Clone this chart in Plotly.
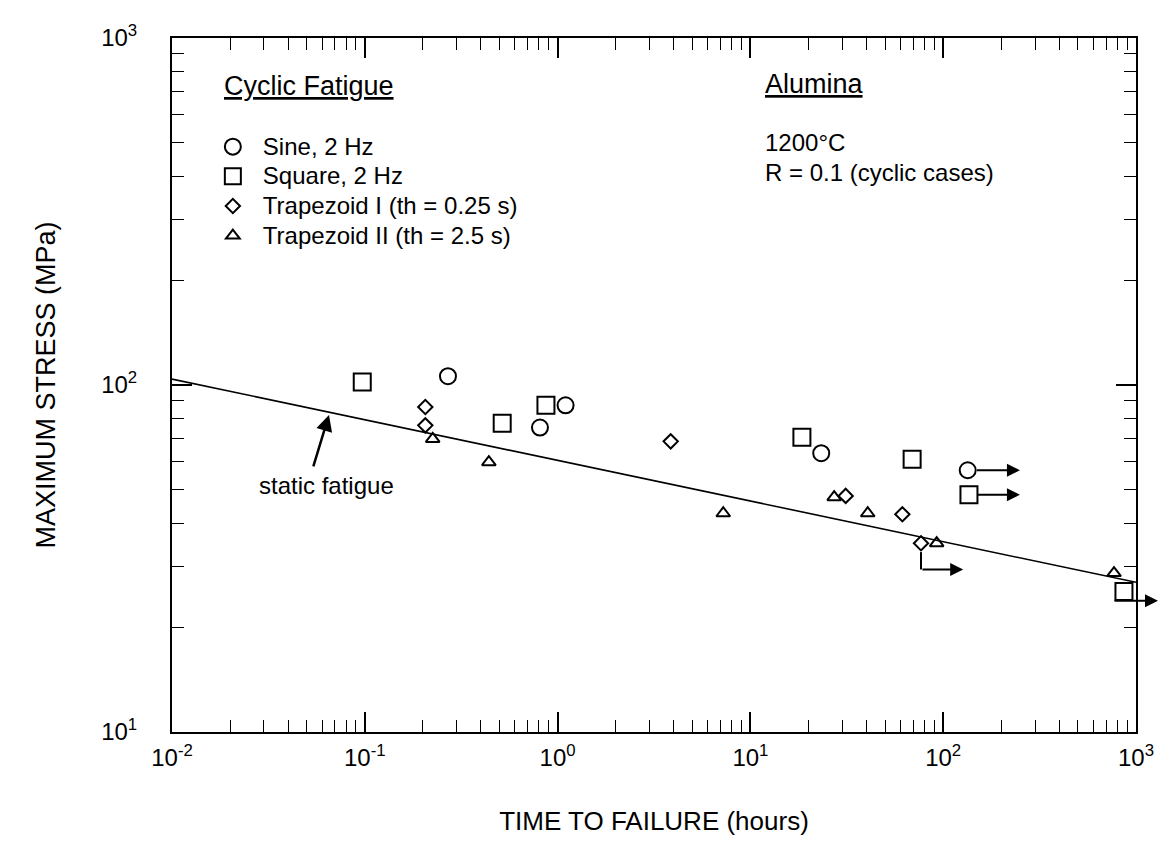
import numpy as np
import plotly.graph_objects as go

# ---------------- data ----------------
sine_t = [0.27, 0.81, 1.10, 23.3, 134]
sine_s = [106, 75.4, 87.4, 63.6, 56.8]

square_t = [0.097, 0.516, 0.87, 18.5, 69, 136, 866]
square_s = [102, 77.6, 87.4, 70.7, 61.1, 48.3, 25.4]

trap1_t = [0.206, 0.206, 3.86, 31.2, 61.4, 76.7]
trap1_s = [86.4, 76.5, 68.8, 47.9, 42.4, 35.0]

trap2_t = [0.225, 0.44, 7.23, 27.2, 40.6, 92.5, 769]
trap2_s = [69.9, 59.9, 42.7, 47.5, 42.7, 35.0, 28.7]

static_t = [0.01, 1000]
static_s = [104, 27]

# run-out (unbroken specimen) arrows
runout_from_t = [147, 147, 76.7, 760]
runout_to_t = [250, 250, 127, 1300]
runout_s = [56.8, 48.3, 29.4, 23.9]
# drop line for the trapezoid I run-out
drop_t = [76.7, 76.7]
drop_s = [33.0, 29.4]

series_names = ["Sine, 2 Hz", "Square, 2 Hz", "Trapezoid I (th = 0.25 s)", "Trapezoid II (th = 2.5 s)"]

x_tickvals = [0.01, 0.1, 1, 10, 100, 1000]
x_ticktext = ["10<sup>-2</sup>", "10<sup>-1</sup>", "10<sup>0</sup>", "10<sup>1</sup>", "10<sup>2</sup>", "10<sup>3</sup>"]
y_tickvals = [10, 100, 1000]
y_ticktext = ["10<sup>1</sup>", "10<sup>2</sup>", "10<sup>3</sup>"]

FONT = "Arial, Liberation Sans, Helvetica, sans-serif"


def minor_vals(lo_exp, hi_exp):
    return [m * 10 ** e for e in range(lo_exp, hi_exp) for m in range(2, 10)]


fig = go.Figure()

fig.add_trace(go.Scatter(x=static_t, y=static_s, mode="lines",
                         line=dict(color="black", width=1.6), showlegend=False))
fig.add_trace(go.Scatter(x=drop_t, y=drop_s, mode="lines",
                         line=dict(color="black", width=2), showlegend=False))

styles = [
    ("circle-open", 16),
    ("square-open", 17),
    ("diamond-open", 11),
    ("triangle-up-open", 12),
]
data = [(sine_t, sine_s), (square_t, square_s), (trap1_t, trap1_s), (trap2_t, trap2_s)]
for (t, s), name, (sym, sz) in zip(data, series_names, styles):
    fig.add_trace(go.Scatter(
        x=t, y=s, mode="markers",
        name='<span style="font-size:24px">' + name + '</span>',
        marker=dict(symbol=sym, size=sz, color="black",
                    line=dict(color="black", width=2)),
        cliponaxis=False,
    ))

# run-out arrows
for t0, t1, s in zip(runout_from_t, runout_to_t, runout_s):
    fig.add_annotation(x=np.log10(t1), y=np.log10(s), ax=np.log10(t0), ay=np.log10(s),
                       xref="x", yref="y", axref="x", ayref="y", text="",
                       showarrow=True, arrowhead=2, arrowsize=1.3, arrowwidth=2,
                       arrowcolor="black")

# static fatigue label + arrow
fig.add_annotation(x=np.log10(0.0652), y=np.log10(82.0), ax=np.log10(0.0538), ay=np.log10(57.7),
                   xref="x", yref="y", axref="x", ayref="y", text="",
                   showarrow=True, arrowhead=2, arrowsize=1.3, arrowwidth=2.5,
                   arrowcolor="black")
fig.add_annotation(x=np.log10(0.0634), y=np.log10(51.5), xref="x", yref="y",
                   text="static fatigue", showarrow=False,
                   font=dict(family=FONT, size=24, color="black"))

# header texts
fig.add_annotation(x=0.0516, y=0.931, xref="paper", yref="paper", xanchor="left", yanchor="middle",
                   text='<span style="text-decoration:underline">Cyclic Fatigue</span>',
                   showarrow=False, font=dict(family=FONT, size=27, color="black"))
fig.add_annotation(x=0.613, y=0.934, xref="paper", yref="paper", xanchor="left", yanchor="middle",
                   text='<span style="text-decoration:underline">Alumina</span>',
                   showarrow=False, font=dict(family=FONT, size=27, color="black"))
fig.add_annotation(x=0.613, y=0.849, xref="paper", yref="paper", xanchor="left", yanchor="middle",
                   text="1200°C", showarrow=False, font=dict(family=FONT, size=24, color="black"))
fig.add_annotation(x=0.613, y=0.8055, xref="paper", yref="paper", xanchor="left", yanchor="middle",
                   text="R = 0.1 (cyclic cases)", showarrow=False,
                   font=dict(family=FONT, size=24, color="black"))

axis_common = dict(
    type="log", showgrid=False, zeroline=False,
    showline=True, linecolor="black", linewidth=2, mirror="allticks",
    ticks="inside", ticklen=20, tickwidth=1.5, tickcolor="black",
    tickmode="array",
    tickfont=dict(family=FONT, size=24, color="black"),
)

fig.update_xaxes(range=[-2, 3], **axis_common,
                 tickvals=x_tickvals, ticktext=x_ticktext,
                 minor=dict(ticks="inside", ticklen=12, tickwidth=1.3, tickcolor="black",
                            tickvals=minor_vals(-2, 3), showgrid=False),
                 title=dict(text="TIME TO FAILURE (hours)", standoff=42,
                            font=dict(family=FONT, size=26, color="black")),
                 ticklabelstandoff=3)
fig.update_yaxes(range=[1, 3], **axis_common,
                 tickvals=y_tickvals, ticktext=y_ticktext,
                 minor=dict(ticks="inside", ticklen=12, tickwidth=1.3, tickcolor="black",
                            tickvals=minor_vals(1, 3), showgrid=False),
                 title=dict(text="MAXIMUM STRESS (MPa)", standoff=38,
                            font=dict(family=FONT, size=27, color="black")),
                 ticklabelstandoff=28)

fig.update_layout(
    width=1161, height=842,
    margin=dict(l=172, r=25, t=38, b=110, autoexpand=False),
    plot_bgcolor="white", paper_bgcolor="white",
    font=dict(family=FONT, color="black"),
    showlegend=True,
    legend=dict(x=0.032, y=0.872, xanchor="left", yanchor="top",
                bgcolor="rgba(0,0,0,0)", borderwidth=0,
                font=dict(family=FONT, size=20.5, color="black"),
                tracegroupgap=0, itemsizing="trace", itemwidth=50),
)

fig.write_html("out.html")
